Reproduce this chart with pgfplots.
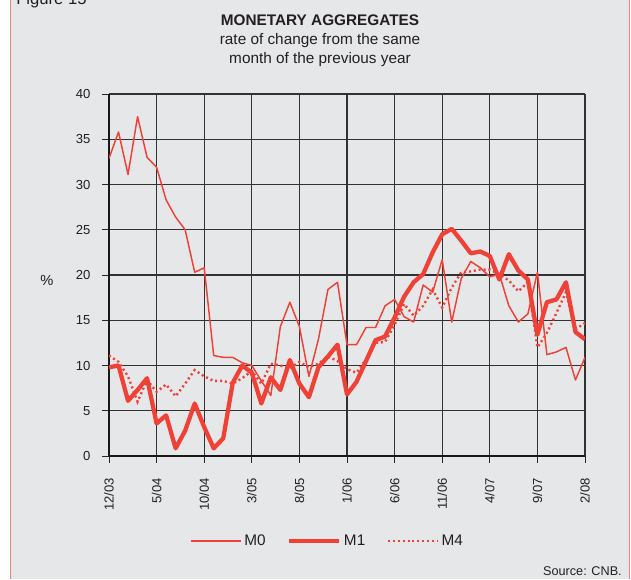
\documentclass[border=0pt]{standalone}
\usepackage{pgfplots}
\pgfplotsset{compat=1.18}
\usepackage{fontspec}
\setmainfont{Liberation Sans}
\definecolor{bg}{RGB}{230,231,233}
\definecolor{ser}{RGB}{239,65,54}
\definecolor{frm}{RGB}{242,135,125}
\definecolor{grd}{RGB}{50,50,50}
\definecolor{txt}{RGB}{35,31,32}

\pgfplotstableread{
i m0 m1 m4
0 32.9 9.8 11.1
1 35.8 10.0 10.4
2 31.1 6.1 8.8
3 37.5 7.3 6.0
4 33.0 8.6 8.4
5 31.9 3.6 7.1
6 28.3 4.5 7.9
7 26.4 0.85 6.6
8 25.0 2.8 8.0
9 20.3 5.8 9.5
10 20.8 3.2 8.8
11 11.1 0.85 8.3
12 10.9 1.95 8.3
13 10.9 8.1 8.0
14 10.3 10.0 8.6
15 10.0 9.2 9.4
16 8.3 5.8 8.0
17 6.7 8.7 10.2
18 14.3 7.3 10.0
19 17.0 10.6 9.7
20 14.3 8.0 10.4
21 8.8 6.5 9.8
22 12.9 9.8 10.2
23 18.4 11.0 11.0
24 19.2 12.3 10.5
25 12.3 6.8 9.6
26 12.3 8.2 9.2
27 14.2 10.5 10.7
28 14.2 12.8 12.5
29 16.6 13.2 12.6
30 17.3 15.3 14.5
31 15.4 17.6 16.8
32 14.8 19.2 15.5
33 18.9 20.1 16.6
34 18.1 22.5 18.4
35 21.7 24.5 16.4
36 14.8 25.1 18.6
37 19.6 23.8 20.3
38 21.5 22.4 20.4
39 20.8 22.6 20.6
40 19.8 22.1 20.6
41 20.1 19.5 20.1
42 16.6 22.3 19.4
43 14.8 20.5 18.2
44 15.7 19.5 19.2
45 20.3 13.4 12.0
46 11.2 17.0 13.6
47 11.5 17.3 15.8
48 12.0 19.2 18.1
49 8.4 13.7 14.0
50 10.9 12.9 14.7
}\data

\begin{document}
\begin{tikzpicture}
\begin{scope}[x=0.75pt,y=-0.75pt]
\useasboundingbox (0,0) rectangle (631,579);
\fill[white] (0,0) rectangle (631,579);
\fill[bg] (10.5,0) rectangle (629.5,579);
\draw[frm, line width=0.9pt] (10.5,0) -- (10.5,579);
\draw[frm, line width=0.9pt] (629.5,0) -- (629.5,579);
\node[anchor=base west, inner sep=0pt, text=txt, font=\fontsize{12.5}{15}\selectfont] at (16,4) {Figure 15};
\node[anchor=base, inner sep=0pt, text=txt, font=\bfseries\fontsize{11.5}{14}\selectfont] at (320,25) {MONETARY AGGREGATES};
\node[anchor=base, inner sep=0pt, text=txt, font=\fontsize{11.5}{14}\selectfont] at (320,44) {rate of change from the same};
\node[anchor=base, inner sep=0pt, text=txt, font=\fontsize{11.5}{14}\selectfont] at (320,63) {month of the previous year};
\node[inner sep=0pt, text=txt, font=\fontsize{11}{13}\selectfont] at (47,280) {\%};
\node[anchor=base east, inner sep=0pt, text=txt, font=\fontsize{9.5}{11}\selectfont] at (622,575) {Source: CNB.};
\end{scope}
\begin{axis}[
  at={(81.75pt,-342pt)}, anchor=south west,
  scale only axis, width=357pt, height=271.5pt,
  xmin=0, xmax=50, ymin=0, ymax=40,
  xtick={0,5,...,50},
  xticklabels={12/03,5/04,10/04,3/05,8/05,1/06,6/06,11/06,4/07,9/07,2/08},
  ytick={0,5,...,40},
  axis x line*=bottom, axis y line*=left,
  axis line style={black!90, line width=1.8pt},
  grid=major, major grid style={grd, line width=0.8pt},
  tick align=outside, major tick length=5pt,
  tick style={black!85, line width=0.75pt},
  /pgf/number format/assume math mode=true,
  ticklabel style={text=txt, font=\fontsize{9.8}{11}\selectfont},
  xticklabel style={rotate=90, anchor=east},
  xticklabel shift=8pt, yticklabel shift=5.5pt,
  legend style={at={(0.46,-0.235)}, anchor=center, draw=none, fill=none,
    font=\fontsize{11.5}{13}\selectfont, text=txt,
    /tikz/every even column/.append style={column sep=14pt}},
  legend columns=3,
  legend image code/.code={\draw[#1] (0pt,0pt) -- (37.5pt,0pt);},
]
\addplot[ser, line width=1.1pt, line join=round] table[x=i, y=m0] {\data};
\addlegendentry{M0}
\addplot[ser, line width=3.2pt, line join=round] table[x=i, y=m1] {\data};
\addlegendentry{M1}
\addplot[ser, line width=1.8pt, dash pattern=on 1.5pt off 2.2pt] table[x=i, y=m4] {\data};
\addlegendentry{M4}
\end{axis}
\end{tikzpicture}
\end{document}
